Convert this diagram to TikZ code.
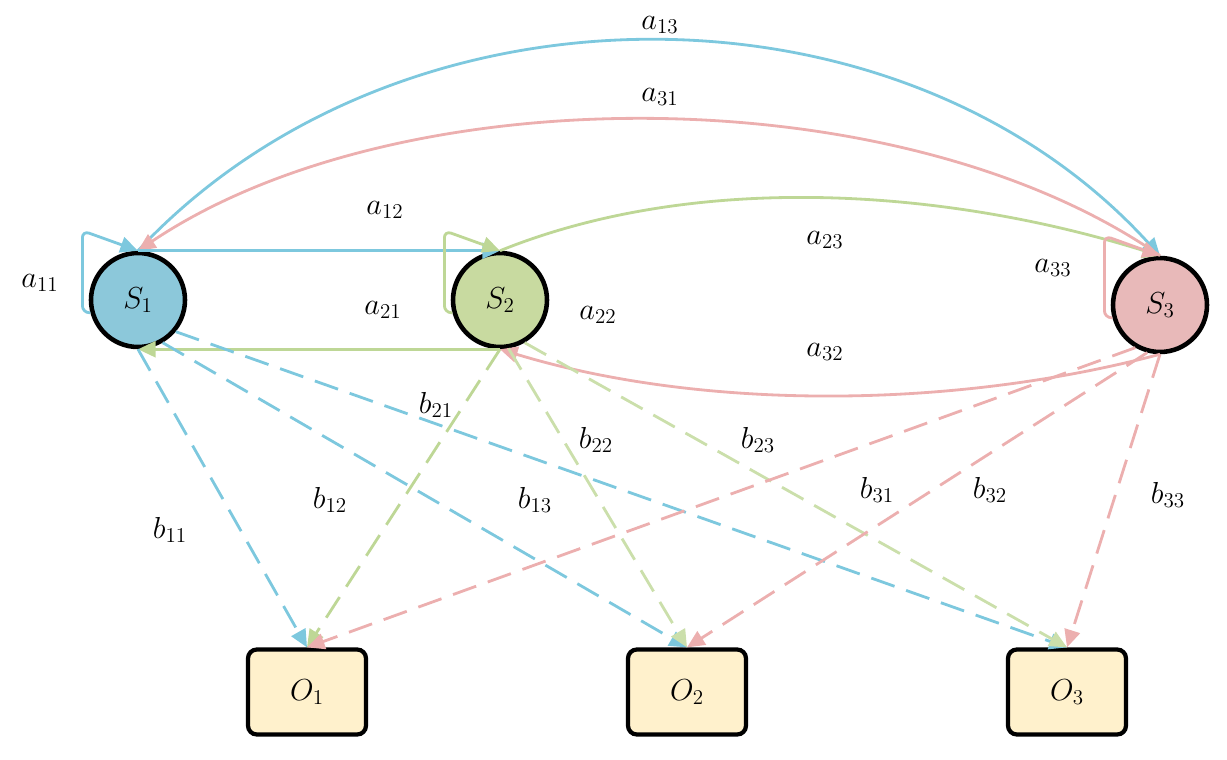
\documentclass[tikz,border=0pt]{standalone}
\usetikzlibrary{arrows.meta}

\definecolor{cblue}{RGB}{125,200,222}
\definecolor{cgreen}{RGB}{190,215,150}
\definecolor{cpink}{RGB}{236,175,175}
\definecolor{fblue}{RGB}{140,200,218}
\definecolor{fgreen}{RGB}{200,218,160}
\definecolor{fpink}{RGB}{232,185,185}
\definecolor{fbox}{RGB}{255,241,204}

\begin{document}
\begin{tikzpicture}[x=0.02cm,y=-0.02cm,>={Triangle[length=10pt,width=9pt]},line width=1.6pt,font=\LARGE]
  \tikzstyle{state}=[circle,draw=black,line width=2.6pt,minimum size=1.88cm,inner sep=0pt]
  \tikzstyle{obs}=[rectangle,rounded corners=5pt,draw=black,line width=2.4pt,fill=fbox,minimum width=2.36cm,minimum height=1.7cm]
  \tikzstyle{emit}=[->,dash pattern=on 14pt off 7pt]
  \tikzstyle{self}=[->,rounded corners=4pt]

  \useasboundingbox (0,0) rectangle (1227,760);

  \node[state, fill=fblue]  (S1) at (138,300) {$S_1$};
  \node[state, fill=fgreen] (S2) at (500,300) {$S_2$};
  \node[state, fill=fpink]  (S3) at (1160,305) {$S_3$};
  \node[obs] (O1) at (307,692) {$O_1$};
  \node[obs] (O2) at (687,692) {$O_2$};
  \node[obs] (O3) at (1067,692) {$O_3$};

  % transitions
  \draw[->,cblue] (S1.north) .. controls (400,-30) and (900,-30) .. (S3.north);
  \draw[->,cpink] (S3.north) .. controls (900,75) and (400,75) .. (S1.north);
  \draw[->,cblue] (S1.north) -- (S2.north);
  \draw[->,cgreen] (S2.south) -- (S1.south);
  \draw[->,cgreen] (S2.north) .. controls (700,170) and (950,190) .. (S3.north);
  \draw[->,cpink] (S3.south) .. controls (950,410) and (700,410) .. (S2.south);
  \draw[self,cblue] (S1.195) -- ++(-8,0) -- ++(0,-82) -- (S1.north);
  \draw[self,cgreen] (S2.195) -- ++(-8,0) -- ++(0,-82) -- (S2.north);
  \draw[self,cpink] (S3.195) -- ++(-8,0) -- ++(0,-82) -- (S3.north);

  % emissions
  \draw[emit,cblue] (S1.south) -- (O1.north);
  \draw[emit,cblue] (S1.300) -- (O2.north);
  \draw[emit,cblue] (S1.320) -- (O3.north);
  \draw[emit,cgreen] (S2.south) -- (O1.north);
  \draw[emit,cgreen!80] (S2.280) -- (O2.north);
  \draw[emit,cgreen!80] (S2.300) -- (O3.north);
  \draw[emit,cpink] (S3.240) -- (O1.north);
  \draw[emit,cpink] (S3.255) -- (O2.north);
  \draw[emit,cpink] (S3.south) -- (O3.north);

  % labels
  \node (la13) at (660,25) {$a_{13}$};
  \node (la31) at (660,97) {$a_{31}$};
  \node (la12) at (385,210) {$a_{12}$};
  \node (la23) at (825,240) {$a_{23}$};
  \node (la11) at (40,283) {$a_{11}$};
  \node (la21) at (383,310) {$a_{21}$};
  \node (la22) at (598,315) {$a_{22}$};
  \node (la33) at (1053,268) {$a_{33}$};
  \node (la32) at (825,352) {$a_{32}$};
  \node (lb21) at (436,405) {$b_{21}$};
  \node (lb22) at (596,440) {$b_{22}$};
  \node (lb23) at (758,440) {$b_{23}$};
  \node (lb11) at (170,530) {$b_{11}$};
  \node (lb12) at (330,500) {$b_{12}$};
  \node (lb13) at (535,500) {$b_{13}$};
  \node (lb31) at (877,490) {$b_{31}$};
  \node (lb32) at (990,490) {$b_{32}$};
  \node (lb33) at (1168,495) {$b_{33}$};
\end{tikzpicture}
\end{document}
